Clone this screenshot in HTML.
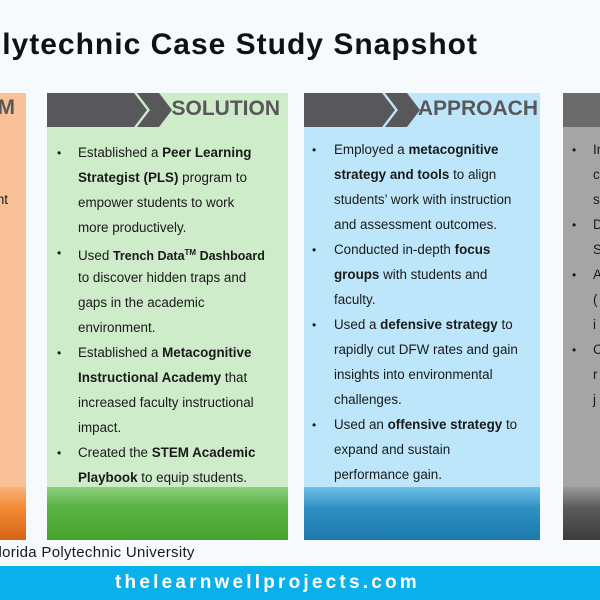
<!DOCTYPE html>
<html><head><meta charset="utf-8"><style>
*{margin:0;padding:0;box-sizing:border-box}
body{width:600px;height:600px;overflow:hidden;background:#f7fafd;position:relative;font-family:"Liberation Sans",sans-serif;color:#1a1a1a}
.a{position:absolute;white-space:nowrap}
.col{position:absolute;top:93px;height:447px;overflow:hidden}
.l{position:absolute;font-size:13.4px;white-space:nowrap;line-height:16px}
.b{position:absolute;font-size:12px}
</style></head><body>
<div class="a" style="right:122px;top:28px;font-size:30px;font-weight:bold;color:#111;letter-spacing:1px">Florida Polytechnic Case Study Snapshot</div>

<!-- orange -->
<div class="col" style="left:0;width:26px;background:#f8c198">
 <div style="position:absolute;left:0;right:0;top:394px;height:53px;background:linear-gradient(#f9b27a,#f28a35 40%,#d86418)"></div>
 <div class="a" style="right:11px;top:3px;font-size:21px;font-weight:bold;color:#58585a">M</div>
 <div class="l" style="right:18px;top:99px;right:18px;left:auto">nt</div>
</div>

<!-- green -->
<div class="col" style="left:47px;width:241px;background:#ceecc9">
 <svg style="position:absolute;left:0;top:0" width="241" height="34"><polygon points="0,0 87,0 100,17 87,34 0,34" fill="#58585a"/><polygon points="90,0 112,0 125,17 112,34 90,34 103,17" fill="#58585a"/></svg>
 <div class="a" style="right:8px;top:4px;font-size:21px;font-weight:bold;color:#58585a">SOLUTION</div>
 <div style="position:absolute;left:0;right:0;top:394px;height:53px;background:linear-gradient(#8fd07e,#5db446 35%,#46a22f)"></div>
</div>
<div class="b" style="left:57px;top:146px">•</div>
<div class="l" style="left:78px;top:145px">Established a <b>Peer Learning</b></div>
<div class="l" style="left:78px;top:170px"><b>Strategist (PLS)</b> program to</div>
<div class="l" style="left:78px;top:195px">empower students to work</div>
<div class="l" style="left:78px;top:220px">more productively.</div>
<div class="b" style="left:57px;top:246px">•</div>
<div class="l" style="left:78px;top:245px">Used <b style="font-size:12.5px">Trench Data<sup style="font-size:8px">TM</sup> Dashboard</b></div>
<div class="l" style="left:78px;top:270px">to discover hidden traps and</div>
<div class="l" style="left:78px;top:295px">gaps in the academic</div>
<div class="l" style="left:78px;top:320px">environment.</div>
<div class="b" style="left:57px;top:346px">•</div>
<div class="l" style="left:78px;top:345px">Established a <b>Metacognitive</b></div>
<div class="l" style="left:78px;top:370px"><b>Instructional Academy</b> that</div>
<div class="l" style="left:78px;top:395px">increased faculty instructional</div>
<div class="l" style="left:78px;top:420px">impact.</div>
<div class="b" style="left:57px;top:446px">•</div>
<div class="l" style="left:78px;top:445px">Created the <b>STEM Academic</b></div>
<div class="l" style="left:78px;top:470px"><b>Playbook</b> to equip students.</div>

<!-- blue -->
<div class="col" style="left:304px;width:236px;background:#bde6fb">
 <svg style="position:absolute;left:0;top:0" width="236" height="34"><polygon points="0,0 78,0 91,17 78,34 0,34" fill="#58585a"/><polygon points="81,0 103,0 116,17 103,34 81,34 94,17" fill="#58585a"/></svg>
 <div class="a" style="right:2px;top:4px;font-size:21px;font-weight:bold;color:#58585a">APPROACH</div>
 <div style="position:absolute;left:0;right:0;top:394px;height:53px;background:linear-gradient(#6cc0ea,#2f90c3 40%,#1c7aab)"></div>
</div>
<div class="b" style="left:312px;top:143px">•</div>
<div class="l" style="left:334px;top:142px">Employed a <b>metacognitive</b></div>
<div class="l" style="left:334px;top:167px"><b>strategy and tools</b> to align</div>
<div class="l" style="left:334px;top:192px">students’ work with instruction</div>
<div class="l" style="left:334px;top:217px">and assessment outcomes.</div>
<div class="b" style="left:312px;top:243px">•</div>
<div class="l" style="left:334px;top:242px">Conducted in-depth <b>focus</b></div>
<div class="l" style="left:334px;top:267px"><b>groups</b> with students and</div>
<div class="l" style="left:334px;top:292px">faculty.</div>
<div class="b" style="left:312px;top:318px">•</div>
<div class="l" style="left:334px;top:317px">Used a <b>defensive strategy</b> to</div>
<div class="l" style="left:334px;top:342px">rapidly cut DFW rates and gain</div>
<div class="l" style="left:334px;top:367px">insights into environmental</div>
<div class="l" style="left:334px;top:392px">challenges.</div>
<div class="b" style="left:312px;top:418px">•</div>
<div class="l" style="left:334px;top:417px">Used an <b>offensive strategy</b> to</div>
<div class="l" style="left:334px;top:442px">expand and sustain</div>
<div class="l" style="left:334px;top:467px">performance gain.</div>

<!-- gray -->
<div class="col" style="left:563px;width:37px;background:#a5a5a5">
 <div style="position:absolute;left:0;right:0;top:0;height:34px;background:#6b6b6b"></div>
 <div style="position:absolute;left:0;right:0;top:394px;height:53px;background:linear-gradient(#9a9a9a,#5a5a5a 40%,#3c3c3c)"></div>
 <div class="b" style="left:9px;top:50px">•</div><div class="l" style="left:30px;top:49px">In</div>
 <div class="l" style="left:30px;top:74px">c</div>
 <div class="l" style="left:30px;top:99px">s</div>
 <div class="b" style="left:9px;top:125px">•</div><div class="l" style="left:30px;top:124px">D</div>
 <div class="l" style="left:30px;top:149px">S</div>
 <div class="b" style="left:9px;top:175px">•</div><div class="l" style="left:30px;top:174px">A</div>
 <div class="l" style="left:30px;top:199px">(</div>
 <div class="l" style="left:30px;top:224px">i</div>
 <div class="b" style="left:9px;top:250px">•</div><div class="l" style="left:30px;top:249px">C</div>
 <div class="l" style="left:30px;top:274px">r</div>
 <div class="l" style="left:30px;top:299px">j</div>
</div>

<div class="a" style="left:-11px;top:544px;font-size:15px;letter-spacing:0.3px;color:#1a1a1a">Florida Polytechnic University</div>

<div style="position:absolute;left:0;top:566px;width:600px;height:34px;background:#09b0ea"></div>
<div class="a" style="left:115px;top:572px;font-size:19px;font-weight:bold;color:#fff;letter-spacing:3.2px">thelearnwellprojects.com</div>
</body></html>
